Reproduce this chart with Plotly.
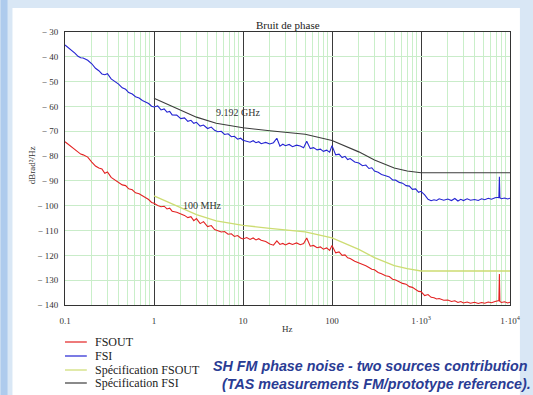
import numpy as np
import plotly.graph_objects as go

# ---------------- data ----------------
FREQ = [
    0.1, 0.11, 0.12, 0.13, 0.14, 0.15, 0.16, 0.18, 0.2, 0.22, 0.24, 0.26, 0.28, 0.3,
    0.33, 0.36, 0.4, 0.44, 0.48, 0.52, 0.57, 0.62, 0.68, 0.74, 0.8, 0.87, 0.94,
    1.0, 1.1, 1.2, 1.3, 1.4, 1.5, 1.6, 1.8, 2.0, 2.2, 2.4, 2.6, 2.8, 3.0,
    3.3, 3.6, 4.0, 4.4, 4.8, 5.2, 5.7, 6.2, 6.8, 7.4, 8.0, 8.7, 9.4,
    10, 11, 12, 13, 14, 15, 16, 18, 20, 22, 24, 26, 28, 30,
    33, 36, 40, 44, 48, 52, 57, 62, 68, 74, 80, 87, 94,
    100, 110, 120, 130, 140, 150, 160, 180, 200, 220, 240, 260, 280, 300,
    330, 360, 400, 440, 480, 520, 570, 620, 680, 740, 800, 870, 940,
    1000, 1100, 1200, 1300, 1400, 1500, 1600, 1800, 2000, 2200, 2400, 2600, 2800, 3000,
    3300, 3600, 4000, 4400, 4800, 5200, 5700, 6200, 6800, 7400, 7500, 7600, 7700,
    8000, 8700, 9400, 10000,
]

FSI = [
    -35.2, -36.3, -37.6, -38.6, -39.8, -40.4, -40.5, -41.4, -42.8, -44.6, -45.6, -46.9, -47.2, -46.8,
    -48.9, -49.8, -51.0, -52.5, -53.1, -54.4, -55.0, -56.1, -56.6, -57.6, -58.3, -58.8, -59.9,
    -60.2, -59.8, -61.4, -61.0, -62.3, -62.0, -63.4, -63.5, -64.9, -64.6, -66.0, -65.6, -66.8, -66.4,
    -67.9, -67.5, -68.9, -68.3, -69.6, -70.2, -70.0, -71.3, -71.0, -72.2, -72.0, -73.2, -72.8,
    -73.6, -73.9, -74.4, -73.8, -74.6, -74.2, -75.0, -74.5, -75.1, -74.6, -72.8, -76.0, -75.2, -75.8,
    -75.3, -76.2, -75.6, -75.9, -76.6, -74.0, -77.0, -76.6, -77.5, -77.2, -78.1, -77.6, -78.4,
    -75.8, -79.5, -79.2, -80.6, -80.1, -81.4, -81.0, -82.4, -82.8, -83.9, -83.6, -85.0, -84.7, -86.0,
    -86.5, -87.4, -87.9, -88.4, -89.6, -89.7, -90.6, -90.9, -91.9, -92.1, -93.4, -93.2, -94.6,
    -94.2, -95.6, -97.4, -98.0, -97.6, -97.9, -97.2, -97.8, -97.3, -97.9, -97.1, -98.1, -97.4, -97.9,
    -97.2, -97.8, -97.5, -97.9, -97.2, -97.6, -97.0, -97.4, -96.8, -96.6, -96.9, -88.3, -96.8,
    -97.2, -96.9, -97.3, -97.0,
]

FSOUT = [
    -74.2, -75.4, -76.6, -77.6, -78.4, -79.2, -79.5, -80.4, -82.4, -84.0, -84.8, -85.2, -86.9, -86.4,
    -88.6, -89.5, -90.4, -91.6, -91.9, -93.2, -93.6, -94.8, -95.2, -96.1, -96.9, -97.5, -98.7,
    -99.0, -99.9, -100.4, -100.2, -101.3, -101.0, -102.2, -102.6, -103.2, -103.9, -104.8, -104.4, -106.0, -105.2,
    -107.2, -106.4, -108.4, -108.0, -109.6, -110.0, -110.6, -110.4, -111.5, -111.3, -112.4, -112.0, -113.0,
    -113.4, -112.8, -113.6, -113.0, -113.8, -113.3, -113.9, -114.4, -115.4, -115.9, -114.2, -115.6, -115.2, -115.8,
    -115.1, -115.6, -115.0, -115.7, -115.2, -113.0, -116.3, -116.0, -116.9, -116.6, -117.5, -117.0, -118.0,
    -116.0, -119.0, -118.6, -120.0, -119.8, -121.0, -121.3, -122.4, -123.0, -123.8, -124.2, -124.9, -125.6, -125.8,
    -126.9, -127.4, -128.2, -128.5, -129.6, -129.9, -130.6, -131.3, -131.6, -132.6, -132.9, -133.6, -134.5,
    -134.6, -136.2, -135.8, -136.9, -137.1, -137.6, -137.4, -138.1, -138.0, -138.6, -138.3, -139.0, -138.6, -139.2,
    -138.8, -139.3, -138.9, -139.4, -139.0, -139.3, -138.8, -139.1, -138.6, -138.4, -138.2, -127.5, -138.6,
    -139.0, -138.7, -139.2, -138.9,
]

SPEC_FREQ = [1, 2, 3, 5, 10, 20, 50, 100, 150, 200, 300, 500, 700, 1000, 10000]
SPEC_FSI = [-56.7, -61.5, -64.3, -66.8, -68.6, -69.8, -71.2, -73.7, -76.3, -78.3, -81.6, -84.8, -86.0, -86.7, -86.7]
SPEC_FSOUT = [-96.0, -100.8, -103.6, -106.1, -107.9, -109.1, -110.5, -113.0, -115.6, -117.6, -120.9, -124.1, -125.3, -126.3, -126.3]

X_TICKS = [0.1, 1, 10, 100, 1000, 10000]
X_TICKTEXT = ["0.1", "1", "10", "100", "1\u00b710<sup>3</sup>", "1\u00b710<sup>4</sup>"]
Y_TICKS = [-30, -40, -50, -60, -70, -80, -90, -100, -110, -120, -130, -140]
Y_TICKTEXT = ["\u2212 " + str(-v) for v in Y_TICKS]

SERIES_NAMES = ["FSOUT", "FSI", "Sp\u00e9cification FSOUT", "Sp\u00e9cification FSI"]
COLORS = ["#e32222", "#2424d2", "#cddc72", "#3c3c3c"]

# ---------------- figure ----------------
W, H = 533, 395
L, R, T, B = 65, 19, 32, 90
PW, PH = W - L - R, H - T - B


def px(x):
    return (x - L) / PW


def py(y):
    return (H - B - y) / PH


SERIF = "Liberation Serif, Times New Roman, serif"

fig = go.Figure()
fig.add_trace(go.Scatter(x=SPEC_FREQ, y=SPEC_FSOUT, mode="lines", name=SERIES_NAMES[2],
                         line=dict(color=COLORS[2], width=1.3), showlegend=False))
fig.add_trace(go.Scatter(x=SPEC_FREQ, y=SPEC_FSI, mode="lines", name=SERIES_NAMES[3],
                         line=dict(color=COLORS[3], width=1.1), showlegend=False))
fig.add_trace(go.Scatter(x=FREQ, y=FSOUT, mode="lines", name=SERIES_NAMES[0],
                         line=dict(color=COLORS[0], width=1.1), showlegend=False))
fig.add_trace(go.Scatter(x=FREQ, y=FSI, mode="lines", name=SERIES_NAMES[1],
                         line=dict(color=COLORS[1], width=1.1), showlegend=False))

minor_vals = [m * 10.0 ** e for e in range(-1, 4) for m in range(2, 10)]

fig.update_xaxes(
    type="log", range=[-1, 4],
    tickvals=X_TICKS, ticktext=X_TICKTEXT,
    showgrid=True, gridcolor="#3a3a3a", gridwidth=1,
    minor=dict(tickvals=minor_vals, showgrid=True, gridcolor="#c9efc9", gridwidth=1, ticks=""),
    showline=True, linecolor="#333333", linewidth=1, mirror=True,
    ticks="outside", ticklen=7, tickcolor="rgba(0,0,0,0)",
    tickfont=dict(family=SERIF, size=9, color="#333333"),
    zeroline=False,
)
fig.update_yaxes(
    range=[-140, -30],
    tickvals=Y_TICKS, ticktext=Y_TICKTEXT,
    showgrid=True, gridcolor="#c9ecc9", gridwidth=1,
    showline=True, linecolor="#333333", linewidth=1, mirror=True,
    ticks="outside", ticklen=4, tickcolor="rgba(0,0,0,0)",
    tickfont=dict(family=SERIF, size=9, color="#333333"),
    zeroline=False,
)

shapes = [
    # slide background panel
    dict(type="rect", xref="paper", yref="paper", x0=px(0), x1=px(7), y0=py(H), y1=py(0),
         fillcolor="#aecbed", line=dict(width=0), layer="below"),
    dict(type="rect", xref="paper", yref="paper", x0=px(12), x1=px(524), y0=py(H + 5), y1=py(8),
         fillcolor="#ffffff", line=dict(width=0), layer="below"),
]
CAPTION_FONT = dict(family="Liberation Sans, Arial, sans-serif", size=14.3, color="#2a3c94")
annotations = [
    dict(text="Bruit de phase", xref="paper", yref="paper", x=0.5, y=py(25), showarrow=False,
         font=dict(family=SERIF, size=11, color="#222222"), xanchor="center", yanchor="middle"),
    dict(text="Hz", xref="paper", yref="paper", x=px(290), y=py(329), showarrow=False,
         font=dict(family=SERIF, size=9, color="#333333"), xanchor="center", yanchor="middle"),
    dict(text="dBrad\u00b2/Hz", xref="paper", yref="paper", x=px(32), y=py(165), showarrow=False,
         textangle=-90, font=dict(family=SERIF, size=9, color="#333333"),
         xanchor="center", yanchor="middle"),
    dict(text="9.192 GHz", xref="x", yref="y", x=np.log10(8.8), y=-62.3, showarrow=False,
         font=dict(family=SERIF, size=10, color="#333333"), xanchor="center", yanchor="middle"),
    dict(text="100 MHz", xref="x", yref="y", x=np.log10(3.5), y=-99.8, showarrow=False,
         font=dict(family=SERIF, size=10, color="#333333"), xanchor="center", yanchor="middle"),
    dict(text="<b><i>SH FM phase noise - two sources contribution</i></b>", xref="paper", yref="paper",
         x=px(212), y=py(366), showarrow=False, xanchor="left", yanchor="middle", font=CAPTION_FONT),
    dict(text="<b><i>(TAS measurements FM/prototype reference).</i></b>", xref="paper", yref="paper",
         x=px(221), y=py(384), showarrow=False, xanchor="left", yanchor="middle", font=CAPTION_FONT),
]

# manual legend
legend_y = [342, 356, 370, 383]
for name, col, yy in zip(SERIES_NAMES, COLORS, legend_y):
    shapes.append(dict(type="line", xref="paper", yref="paper", x0=px(65), x1=px(87),
                       y0=py(yy), y1=py(yy), line=dict(color=col, width=1.2)))
    annotations.append(dict(text=name, xref="paper", yref="paper", x=px(93), y=py(yy),
                            showarrow=False, xanchor="left", yanchor="middle",
                            font=dict(family=SERIF, size=12, color="#222222")))

fig.update_layout(
    width=W, height=H, autosize=False,
    margin=dict(l=L, r=R, t=T, b=B),
    paper_bgcolor="#d9e7f5", plot_bgcolor="#ffffff",
    showlegend=False,
    shapes=shapes, annotations=annotations,
)

fig.write_html(
    "out.html",
    config={"displayModeBar": False},
    post_script="document.body.style.margin='0';document.body.style.overflow='hidden';",
)
